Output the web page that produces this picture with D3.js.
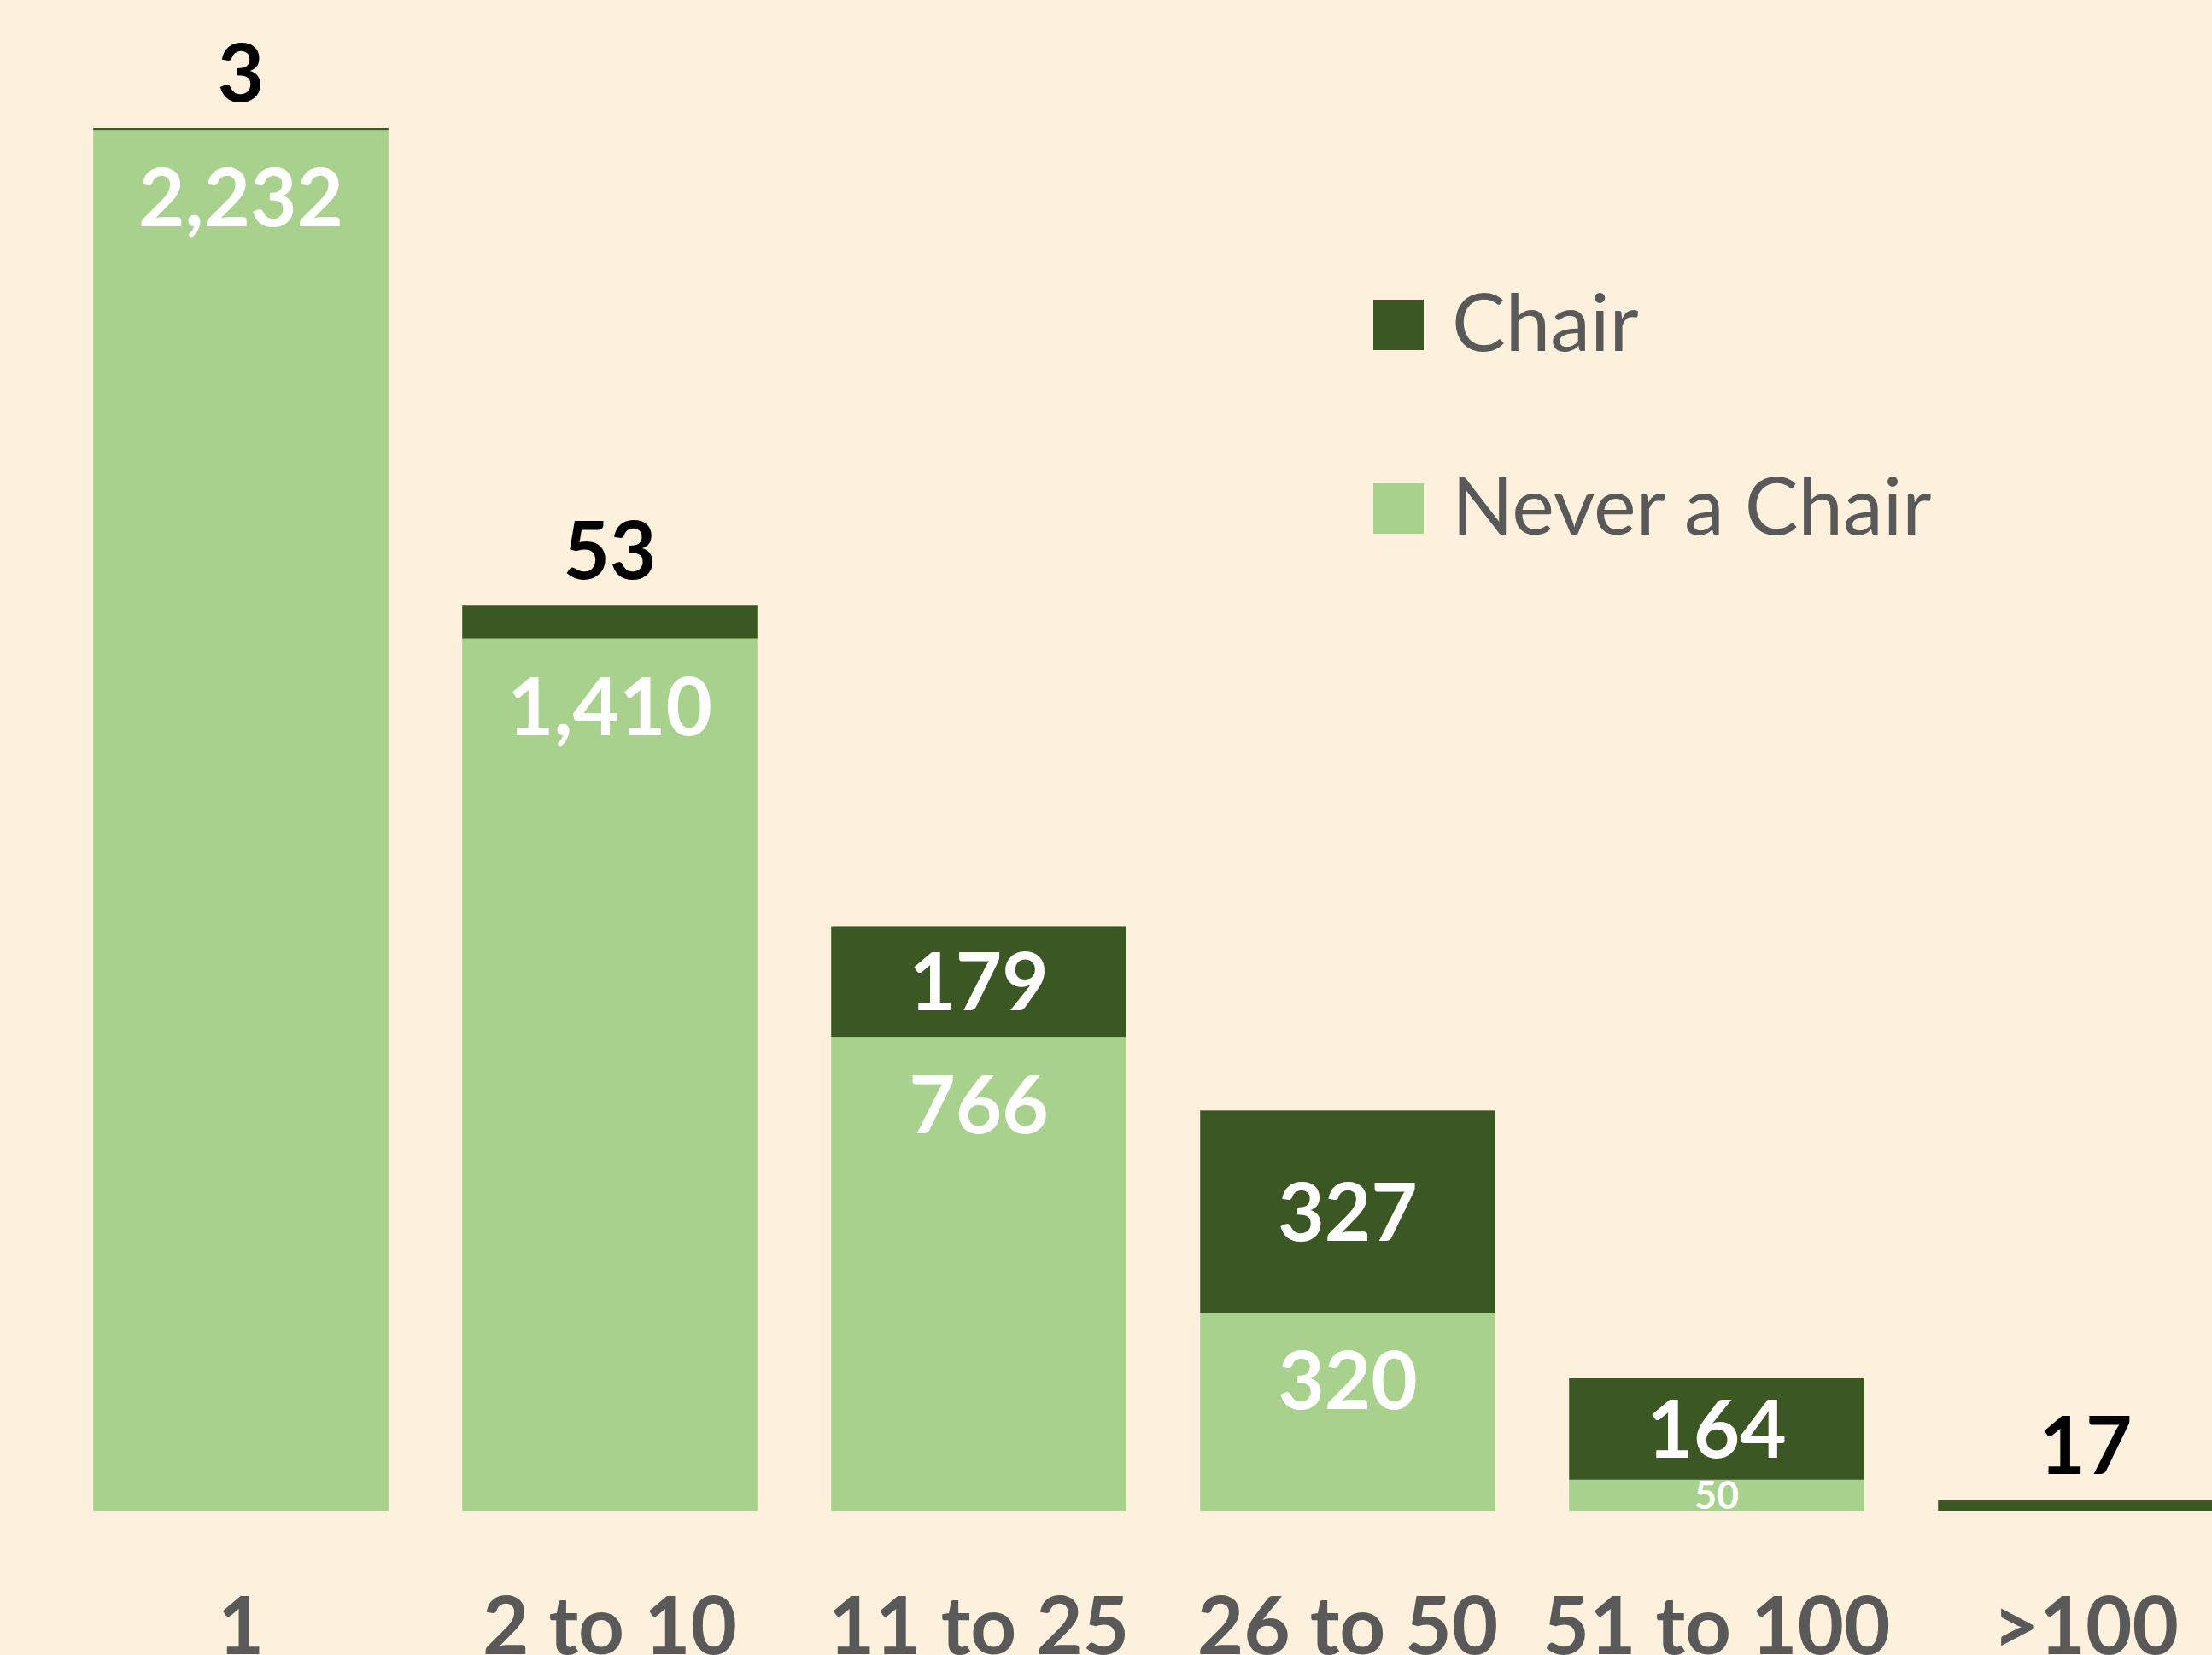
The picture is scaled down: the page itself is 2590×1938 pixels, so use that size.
<!DOCTYPE html>
<html>
<head>
<meta charset="utf-8">
<script src="https://cdn.jsdelivr.net/npm/d3@7"></script>
<style>
  html, body { margin: 0; padding: 0; background: #FDF0DC; }
  svg { display: block; }
</style>
</head>
<body>
<svg id="chart" width="2590" height="1938"></svg>
<script>
// ---- data ----
const categories = ["1", "2 to 10", "11 to 25", "26 to 50", "51 to 100", ">100"];
const chairValues = [3, 53, 179, 327, 164, 17];
const neverValues = [2232, 1410, 766, 320, 50, 0];
const seriesNames = ["Chair", "Never a Chair"];

// ---- styling ----
const W = 2590, H = 1938;
const colChair = "#3B5724";
const colNever = "#A9D18E";
const bg = "#FDF0DC";
const grey = "#595959";
const font = "Lato, 'Open Sans', sans-serif";
const labelSize = 94;

const svg = d3.select("#chart");
svg.append("rect").attr("width", W).attr("height", H).attr("fill", bg);

const x = d3.scaleBand()
  .domain(categories)
  .range([66, 66 + 6 * 432])
  .paddingInner(0.2)
  .paddingOuter(0.1);

const baseY = 1769;
const y = d3.scaleLinear()
  .domain([0, 2235])
  .range([baseY, 150]);

const rows = categories.map((c, i) => ({
  cat: c, chair: chairValues[i], never: neverValues[i]
}));

const stack = d3.stack().keys(["never", "chair"]);
const stacked = stack(rows);
const colors = { never: colNever, chair: colChair };

const g = svg.append("g");
stacked.forEach(layer => {
  g.selectAll(null)
    .data(layer)
    .join("rect")
    .attr("x", d => x(d.data.cat))
    .attr("width", x.bandwidth())
    .attr("y", d => y(d[1]))
    .attr("height", d => y(d[0]) - y(d[1]))
    .attr("fill", colors[layer.key]);
});

const fmt = d3.format(",");
const neverLayer = stacked[0];
const chairLayer = stacked[1];

// never labels
neverLayer.forEach(d => {
  const v = d.data.never;
  if (!v) return;
  const top = y(d[1]), bot = y(d[0]);
  const cx = x(d.data.cat) + x.bandwidth() / 2;
  const h = bot - top;
  if (h > 120) {
    svg.append("text")
      .attr("x", cx).attr("y", top + 113)
      .attr("text-anchor", "middle")
      .attr("font-family", font).attr("font-weight", "bold")
      .attr("font-size", labelSize).attr("fill", "#FFFFFF")
      .text(fmt(v));
  } else {
    svg.append("text")
      .attr("x", cx).attr("y", (top + bot) / 2 + 0.36 * 45)
      .attr("text-anchor", "middle")
      .attr("font-family", font).attr("font-weight", "bold")
      .attr("font-size", 45).attr("fill", "#FFFFFF")
      .text(fmt(v));
  }
});

// chair labels
chairLayer.forEach(d => {
  const v = d.data.chair;
  const top = y(d[1]), bot = y(d[0]);
  const cx = x(d.data.cat) + x.bandwidth() / 2;
  const h = bot - top;
  const t = svg.append("text")
    .attr("x", cx)
    .attr("text-anchor", "middle")
    .attr("font-family", font).attr("font-weight", "bold")
    .attr("font-size", labelSize)
    .text(fmt(v));
  if (h > 100) {
    t.attr("y", (top + bot) / 2 + 0.36 * labelSize).attr("fill", "#FFFFFF");
  } else {
    t.attr("y", top - 31).attr("fill", "#000000");
  }
});

// x axis
const axis = svg.append("g")
  .attr("transform", `translate(0,${baseY})`)
  .call(d3.axisBottom(x).tickSize(0));
axis.select(".domain").remove();
axis.selectAll("text")
  .attr("y", 168).attr("dy", 0)
  .attr("font-family", font).attr("font-weight", "bold")
  .attr("font-size", labelSize).attr("fill", grey);

// legend
const legend = svg.append("g");
const legendItems = [
  { name: seriesNames[0], color: colChair, sy: 351 },
  { name: seriesNames[1], color: colNever, sy: 566 }
];
legendItems.forEach(it => {
  legend.append("rect")
    .attr("x", 1608).attr("y", it.sy)
    .attr("width", 59).attr("height", 59)
    .attr("fill", it.color);
  legend.append("text")
    .attr("x", 1700).attr("y", it.sy + 60)
    .attr("font-family", font).attr("font-size", labelSize)
    .attr("fill", grey)
    .text(it.name);
});
</script>
</body>
</html>
